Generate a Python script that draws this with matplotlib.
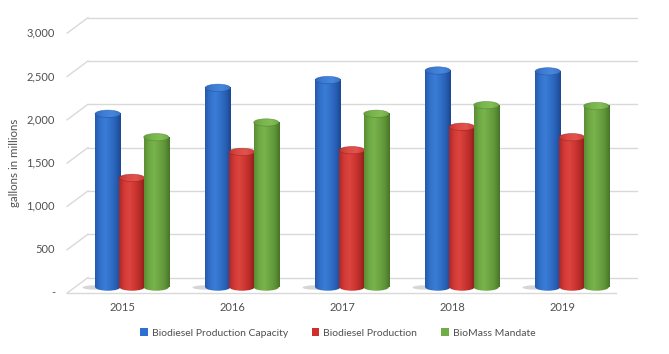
import numpy as np
import matplotlib
matplotlib.use("Agg")
import matplotlib.pyplot as plt
from matplotlib.colors import LinearSegmentedColormap
from matplotlib.patches import Ellipse, Patch

plt.rcParams['font.family'] = ['Lato', 'DejaVu Sans']

years = ['2015', '2016', '2017', '2018', '2019']
capacity = [2000, 2300, 2390, 2500, 2490]
production = [1260, 1560, 1580, 1850, 1730]
mandate = [1730, 1900, 2000, 2100, 2090]
series_names = ['Biodiesel Production Capacity', 'Biodiesel Production', 'BioMass Mandate']
yticks = [0, 500, 1000, 1500, 2000, 2500, 3000]

series_values = [capacity, production, mandate]
body_colors = [
    ['#2558a8', '#3272cc', '#3a7cd6', '#3170c8', '#2860b5', '#1c4790'],
    ['#a8282a', '#d33a36', '#dc4440', '#cf3733', '#b82c28', '#8a1e1b'],
    ['#5a8c33', '#6fa944', '#78b34b', '#6ca443', '#5f9538', '#477428'],
]
top_colors = [
    ['#3068bc', '#3f7ed6', '#4686dc', '#3774cc'],
    ['#c23430', '#dd4a45', '#e2534e', '#cc3c37'],
    ['#659d3c', '#7ab64e', '#82bd55', '#6ca843'],
]
rim_colors = ['#1f4f99', '#8f2220', '#4e7e2e']
legend_colors = ['#2e6fcf', '#d0302b', '#70ad47']

text_color = '#505050'
grid_color = '#d9d9d9'

fig = plt.figure(figsize=(6.69, 3.54), dpi=100)
ax = fig.add_axes([0, 0, 1, 1])
ax.axis('off')

# perspective offsets (data units) for back wall / front edge
back_off, front_off = 110, -69
back_x = (-0.40, 4.59)
front_x = (-0.59, 4.40)

for v in yticks:
    ax.plot(back_x, [v + back_off] * 2, color=grid_color, lw=1, zorder=1)
    ax.plot([front_x[0], back_x[0]], [v + front_off, v + back_off], color=grid_color, lw=1, zorder=1)
    label = '-' if v == 0 else f'{v:,}'
    ax.text(-0.70, v + front_off, label, ha='right', va='center', fontsize=8, color=text_color)
ax.plot(front_x, [front_off] * 2, color=grid_color, lw=1, zorder=1)

offsets = [-0.22, 0.0, 0.22]
w = 0.23
eh = 85  # ellipse height in data units
grad = np.linspace(0, 1, 256).reshape(1, -1)

for i, yr in enumerate(years):
    # floor shadow
    ax.add_patch(Ellipse((i + offsets[0] - 0.12, -5), 0.22, 50, facecolor='#8a8a8a',
                         alpha=0.35, lw=0, zorder=2))
    for j, vals in enumerate(series_values):
        x = i + offsets[j]
        v = vals[i]
        z = 3 + j * 0.1
        cmap = LinearSegmentedColormap.from_list(f'b{j}', body_colors[j])
        tmap = LinearSegmentedColormap.from_list(f't{j}', top_colors[j])
        ax.imshow(grad, cmap=cmap, extent=[x - w / 2, x + w / 2, 0, v],
                  aspect='auto', interpolation='bilinear', zorder=z)
        bot = Ellipse((x, 0), w, eh, fill=False, lw=0)
        ax.add_patch(bot)
        im = ax.imshow(grad, cmap=cmap, extent=[x - w / 2, x + w / 2, -eh / 2, 0],
                       aspect='auto', interpolation='bilinear', zorder=z)
        im.set_clip_path(bot)
        top = Ellipse((x, v), w, eh, fill=False, lw=0)
        ax.add_patch(top)
        im = ax.imshow(grad, cmap=tmap, extent=[x - w / 2, x + w / 2, v - eh / 2, v + eh / 2],
                       aspect='auto', interpolation='bilinear', zorder=z + 0.01)
        im.set_clip_path(top)
        ax.add_patch(Ellipse((x, v), w, eh, fill=False, edgecolor=rim_colors[j],
                             lw=0.5, alpha=0.6, zorder=z + 0.02))
    ax.text(i - 0.09, -231, yr, ha='center', va='center', fontsize=8, color=text_color)

ax.set_xlim(-1.2, 4.882)
ax.set_ylim(-773, 3314)

fig.text(15 / 669, 1 - 163 / 354, 'gallons in millions', rotation=90, ha='center',
         va='center', fontsize=8.3, color=text_color)

handles = [Patch(facecolor=c, edgecolor='none') for c in legend_colors]
fig.legend(handles, series_names, loc='center', bbox_to_anchor=(0.505, 0.059), ncol=3,
           frameon=False, fontsize=7.5, handlelength=0.7, handleheight=0.7,
           columnspacing=2.3, handletextpad=0.4, labelcolor=text_color)

fig.savefig('out.png', dpi=100)
